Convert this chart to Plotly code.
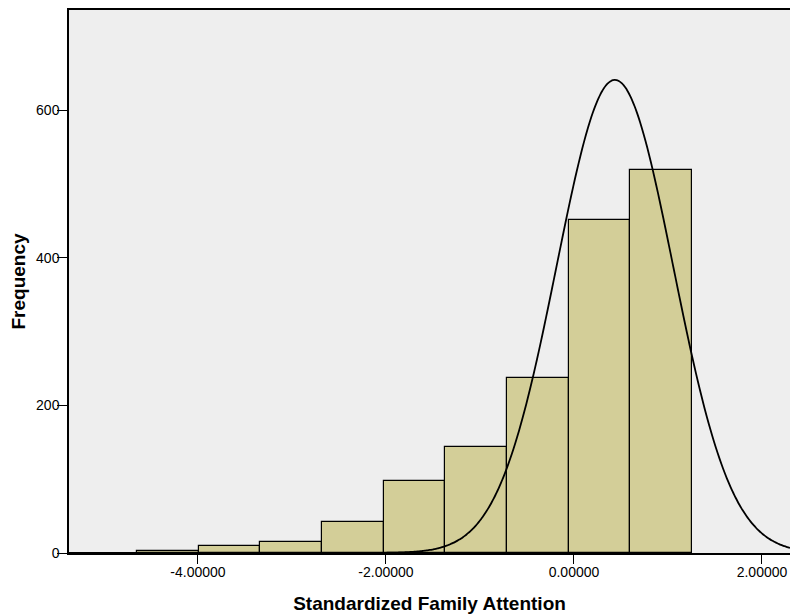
import math
import plotly.graph_objects as go

# Histogram data
bin_start = -4.65
bin_width = 0.656
counts = [3, 9, 15, 42, 98, 144, 237, 451, 519]

# Normal curve parameters (as drawn)
curve_mean = 0.435
curve_sd = 0.62
curve_peak = 641

x_tick_vals = [-4, -2, 0, 2]
x_tick_text = ["-4.00000", "-2.00000", "0.00000", "2.00000"]
y_tick_vals = [0, 200, 400, 600]
y_tick_text = ["0", "200", "400", "600"]

centers = [bin_start + bin_width * (i + 0.5) for i in range(len(counts))]

x_min, x_max = -5.372, 2.298
n_pts = 400
cx = [x_min + (x_max - x_min) * i / (n_pts - 1) for i in range(n_pts)]
cy = [curve_peak * math.exp(-((v - curve_mean) ** 2) / (2 * curve_sd ** 2)) for v in cx]

fig = go.Figure()
fig.add_trace(go.Bar(
    x=centers, y=counts, width=bin_width,
    marker=dict(color="#D3CE98", line=dict(color="black", width=1.2)),
    hoverinfo="skip",
))
fig.add_trace(go.Scatter(
    x=cx, y=cy, mode="lines",
    line=dict(color="black", width=1.8, shape="spline"),
    hoverinfo="skip",
))

fig.update_layout(
    width=790, height=615,
    margin=dict(l=69, r=0, t=10, b=62),
    paper_bgcolor="white",
    plot_bgcolor="#EEEEEE",
    showlegend=False,
    bargap=0,
    font=dict(family="Liberation Sans, Arial, sans-serif", color="black", size=14),
    xaxis=dict(
        range=[x_min, x_max], automargin=False,
        tickvals=x_tick_vals, ticktext=x_tick_text,
        ticks="outside", ticklen=9, tickwidth=1.3, tickcolor="black",
        ticklabelstandoff=-4,
        showline=True, linecolor="black", linewidth=1.5, mirror=True,
        showgrid=False, zeroline=False,
        tickfont=dict(size=14),
        title=dict(text="<b>Standardized Family Attention</b>", font=dict(size=19), standoff=18),
    ),
    yaxis=dict(
        range=[0, 735.8], automargin=False,
        tickvals=y_tick_vals, ticktext=y_tick_text,
        ticks="outside", ticklen=10, tickwidth=1.3, tickcolor="black",
        ticklabelstandoff=-5,
        showline=True, linecolor="black", linewidth=1.5,
        showgrid=False, zeroline=False,
        tickfont=dict(size=14),
        title=dict(text="<b>Frequency</b>", font=dict(size=19), standoff=5),
    ),
)

fig.write_html(
    "out.html",
    config={"displayModeBar": False},
    post_script="document.body.style.margin='0';document.body.style.overflow='hidden';",
)
